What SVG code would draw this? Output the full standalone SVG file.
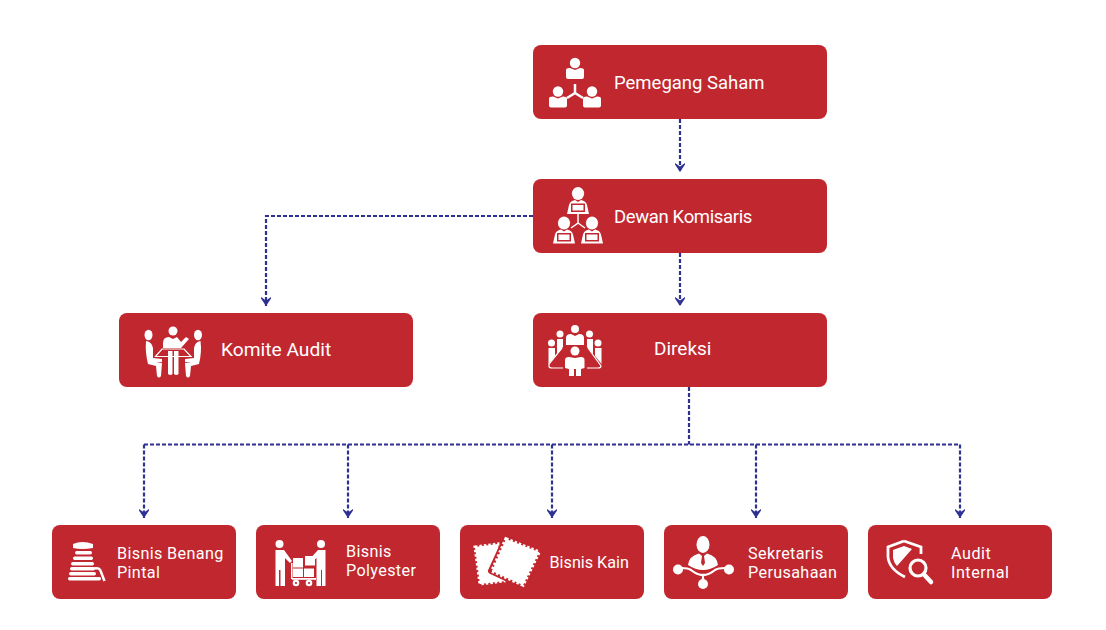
<svg xmlns="http://www.w3.org/2000/svg" width="1106" height="630" viewBox="0 0 1106 630">
<style>
.box{fill:#c1272f}
.t{font-family:Roboto,"Open Sans",sans-serif;font-size:19px;fill:#fff}
.s{font-size:16.2px;letter-spacing:.35px}
.c{fill:none;stroke:#2e3192;stroke-width:2.2;stroke-dasharray:4 2}
.i{fill:#fff}
.l{fill:none;stroke:#fff;stroke-width:1.5}
.r{fill:#c1272f}
</style>
<defs>
<marker id="a" markerUnits="userSpaceOnUse" markerWidth="12" markerHeight="10" refX="5" refY="9.500" orient="0" viewBox="0 0 10 10"><path d="M0 0.500 L5 4 L10 0.500 V2 L5 9.500 L0 2Z" fill="#2e3192"/></marker>
<g id="p"><circle cx="0" cy="-8" r="5.200"/><path d="M-9 6 V-1 Q-9 -3 -5 -3 L0 -1 L5 -3 Q9 -3 9 -1 V6 Q9 8 7 8 H-7 Q-9 8 -9 6Z"/></g>
<g id="w"><circle cx="0" cy="-10" r="6"/><path d="M-6.500 -10 Q-5 -17 0 -17 Q5 -17 6.500 -10 L5 -12 H-5Z"/><path d="M-11 10 L-9 1 Q-8 -3 -3 -4 L0 -2 L3 -4 Q8 -3 9 1 L11 10Z"/><rect class="r" x="-7" y="-0.500" width="14" height="8.500"/><rect x="-5.500" y="1" width="11" height="5.500"/></g>
</defs>
<g id="connectors">
<path class="c" d="M680 119V172" marker-end="url(#a)"/>
<path class="c" d="M533 216H266V306" marker-end="url(#a)"/>
<path class="c" d="M680 253V306" marker-end="url(#a)"/>
<path class="c" d="M689 387V444.500"/>
<path class="c" d="M144 444.500H960"/>
<path class="c" d="M144 444.500V518" marker-end="url(#a)"/>
<path class="c" d="M348 444.500V518" marker-end="url(#a)"/>
<path class="c" d="M552 444.500V518" marker-end="url(#a)"/>
<path class="c" d="M756 444.500V518" marker-end="url(#a)"/>
<path class="c" d="M960 444.500V518" marker-end="url(#a)"/>
</g>
<g id="pemegang-saham">
<rect class="box" x="533" y="45" width="294" height="74" rx="8"/>
<g class="i"><use href="#p" x="575" y="71"/><use href="#p" x="558" y="99.500"/><use href="#p" x="592" y="99.500"/></g>
<path d="M575 84V93L567 98M575 93L583 98" fill="none" stroke="#fff" stroke-width="2.500"/>
<text class="t" x="614" y="89" style="font-size:18.5px">Pemegang Saham</text>
</g>
<g id="dewan-komisaris">
<rect class="box" x="533" y="179" width="294" height="74" rx="8"/>
<g class="i"><use href="#w" x="578" y="204"/><use href="#w" x="564" y="233.500"/><use href="#w" x="592" y="233.500"/></g>
<path d="M578 214V223L571 228M578 223L585 228" class="l"/>
<text class="t" x="614" y="223" style="font-size:18.5px;letter-spacing:-.35px">Dewan Komisaris</text>
</g>
<g id="komite-audit">
<rect class="box" x="119" y="313" width="294" height="74" rx="8"/>
<g class="i">
<circle cx="173" cy="331" r="4.500"/><path d="M163 348V343Q163 337 169 337L173 339L177 337L181 342L186 337L189 339L181 348Z"/>
<path d="M168 351h4.500v23q-2.200 2 -4.500 0ZM174 351h4.500v23q-2.200 2 -4.500 0Z"/>
<ellipse cx="148.500" cy="335" rx="4" ry="5.200"/><path d="M146 341Q152 342 153 348V358L162 359V362L156 363L162 363L161 376Q159 379 157 376L156 366L148 364Q145 352 146 341Z"/>
<ellipse cx="198" cy="335" rx="4" ry="5.200"/><path d="M200.500 341Q195 342 194 348V358L185 359V362L191 363L185 363L186 376Q188 379 190 376L191 366L199 364Q202 352 200.500 341Z"/>
</g>
<path d="M155.500 356.500L162 349H184L191 356.500Z" fill="none" stroke="#fff" stroke-width="1.200"/>
<text class="t" x="221" y="356" style="font-size:19.2px">Komite Audit</text>
</g>
<g id="direksi">
<rect class="box" x="533" y="313" width="294" height="74" rx="8"/>
<g class="i">
<circle cx="575" cy="329" r="4"/><path d="M566 345V338Q566 334 571 334L575 336L579 334Q584 334 584 338V345Z"/>
<circle cx="560" cy="334" r="3.500"/><path d="M557 339H563V347L557 354Z"/>
<circle cx="589.500" cy="334" r="3.500"/><path d="M587 339H593V354L587 347Z"/>
<circle cx="551.500" cy="343" r="3.500"/><path d="M548.500 348H555V356L548.500 364Z"/>
<circle cx="598" cy="343" r="3.500"/><path d="M595 348H601.500V364L595 356Z"/>
</g>
<path d="M562 348L549 364V366Q549 368 552 368H598Q601 368 601 366L588 348" fill="none" stroke="#fff" stroke-width="1.200"/>
<circle cx="575" cy="351" r="6" class="r"/>
<path d="M563 378V358Q563 354 568 354H582Q587 354 587 358V378Z" class="r"/>
<g class="i"><circle cx="575" cy="351" r="4.500"/><path d="M565 368V360Q565 357 569 357L575 358L581 357Q584.500 357 584.500 360V368L581 369V376H576V369H574V376H569V369Z"/></g>
<text class="t" x="654" y="355">Direksi</text>
</g>
<g id="bisnis-benang-pintal">
<rect class="box" x="52" y="525" width="184" height="74" rx="8"/>
<g class="i">
<path d="M73 544Q82 540 93 544V548Q82 550 73 548Z"/>
<rect x="75" y="551" width="17" height="3.500" rx="1.700"/><rect x="73" y="556.500" width="20" height="3.500" rx="1.700"/>
<rect x="71" y="562" width="23" height="3.500" rx="1.700"/><rect x="70" y="567" width="25" height="3.500" rx="1.700"/>
<rect x="69" y="572" width="27" height="3.500" rx="1.700"/><rect x="68" y="577" width="33" height="3.500" rx="1.700"/>
</g>
<path d="M94 568.500Q100 567 101 572L104.500 581" fill="none" stroke="#fff" stroke-width="2.500"/>
<text class="t s" x="117" y="559">Bisnis Benang<tspan x="117" y="578">Pintal</tspan></text>
</g>
<g id="bisnis-polyester">
<rect class="box" x="256" y="525" width="184" height="74" rx="8"/>
<g class="i">
<circle cx="279.500" cy="544" r="4"/><path d="M275.500 550H284L292 561L290 563L285 558V586H280.500V570H279V586H275.500Z"/>
<circle cx="321" cy="544" r="4"/><path d="M325.500 550H318L308 561L310 563.500L316.500 558V586H321V570H322V586H325.500Z"/>
<rect x="293" y="558" width="10" height="9.500"/><rect x="305" y="556" width="10" height="9.500"/><rect x="293" y="568.500" width="10" height="8.500"/><rect x="304" y="568.500" width="10" height="8.500"/>
<rect x="292" y="578" width="24" height="1.800"/><rect x="291" y="563" width="1.500" height="16"/>
<circle cx="296" cy="583" r="3.300"/><circle cx="309" cy="583" r="3.300"/>
</g>
<circle class="r" cx="296" cy="583" r="1.100"/><circle class="r" cx="309" cy="583" r="1.100"/>
<text class="t s" x="346" y="557">Bisnis<tspan x="346" y="576">Polyester</tspan></text>
</g>
<g id="bisnis-kain">
<rect class="box" x="460" y="525" width="184" height="74" rx="8"/>
<path class="i" d="M475 547L498 544L504 581L480 584Z" stroke="#fff" stroke-width="3" stroke-dasharray="2.500 2"/>
<path d="M506 538L540 552L523 586L491 571Z" fill="#c1272f" stroke="#c1272f" stroke-width="6" stroke-linejoin="round"/>
<path class="i" d="M506 539L539 552L523 585L492 571Z" stroke="#fff" stroke-width="3.500" stroke-dasharray="2.500 2"/>
<text class="t s" x="549.500" y="568" style="letter-spacing:0">Bisnis Kain</text>
</g>
<g id="sekretaris-perusahaan">
<rect class="box" x="664" y="525" width="184" height="74" rx="8"/>
<g class="i">
<ellipse cx="703" cy="544.500" rx="6.500" ry="8.500"/>
<path d="M688 565Q689 556 699 553.500L702 556L701 563L703 566L705 563L704 556L707 553.500Q717 556 718 565Q703 575 688 565Z"/>
<circle cx="678" cy="569.500" r="5"/><circle cx="729" cy="569.500" r="5"/><circle cx="703" cy="584" r="5"/>
</g>
<path d="M682 568Q688 568 691 570Q703 580 715 570Q718 568 725 568M703 575V581" fill="none" stroke="#fff" stroke-width="2.200"/>
<text class="t s" x="748" y="559">Sekretaris<tspan x="748" y="578">Perusahaan</tspan></text>
</g>
<g id="audit-internal">
<rect class="box" x="868" y="525" width="184" height="74" rx="8"/>
<path d="M904 541L888 547V557Q889 569 905 577" fill="none" stroke="#fff" stroke-width="2.800"/>
<path d="M904 541L921 547V554" fill="none" stroke="#fff" stroke-width="2.800"/>
<path class="i" d="M904 546L893 550V558Q894 563 897 566L912 549Z"/>
<circle cx="918" cy="568" r="8" fill="#c1272f" stroke="#fff" stroke-width="3.200"/>
<path d="M924 574.500L931 582" stroke="#fff" stroke-width="4.500" stroke-linecap="round"/>
<text class="t s" x="951" y="559" style="letter-spacing:.5px">Audit<tspan x="951" y="578">Internal</tspan></text>
</g>
</svg>
